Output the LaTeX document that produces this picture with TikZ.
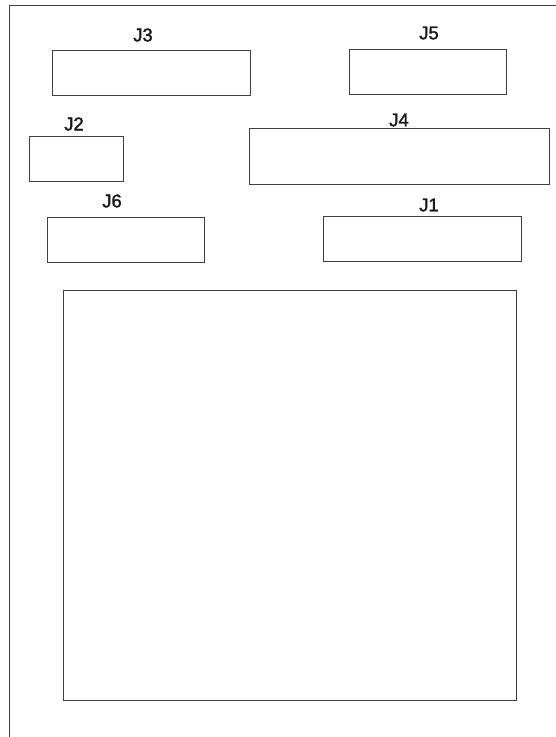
\documentclass[tikz,border=0pt]{standalone}
\usepackage{fontspec}
\setmainfont{Liberation Sans}
\newfontfamily\lblfont[FakeBold=1.6]{Liberation Sans}
\begin{document}
\begin{tikzpicture}[x=1pt,y=-1pt,
  box/.style={draw=black!75, line width=0.9pt},
  lbl/.style={font=\lblfont\fontsize{18.5}{21}\selectfont, inner sep=0pt, text=black!90},
  frame/.style={draw=black!75, line width=0.9pt}]
\useasboundingbox[fill=white] (0,0) rectangle (556,737);
\draw[frame] (9.5,737) -- (9.5,5.5) -- (556,5.5);
\draw[box] (52,50) rectangle (250,95);
\node[lbl] (t3) at (143,35) {J3};
\draw[box] (29,136) rectangle (123,181);
\node[lbl] (t2) at (74,124) {J2};
\draw[box] (349,49) rectangle (506,94);
\node[lbl] (t5) at (429,33) {J5};
\draw[box] (249,128) rectangle (549,184);
\node[lbl] (t4) at (399,120) {J4};
\draw[box] (47,217) rectangle (204,262);
\node[lbl] (t6) at (112,201) {J6};
\draw[box] (323,216) rectangle (521,261);
\node[lbl] (t1) at (429,205) {J1};
\draw[box] (63,290) rectangle (516,700);
\end{tikzpicture}
\end{document}
